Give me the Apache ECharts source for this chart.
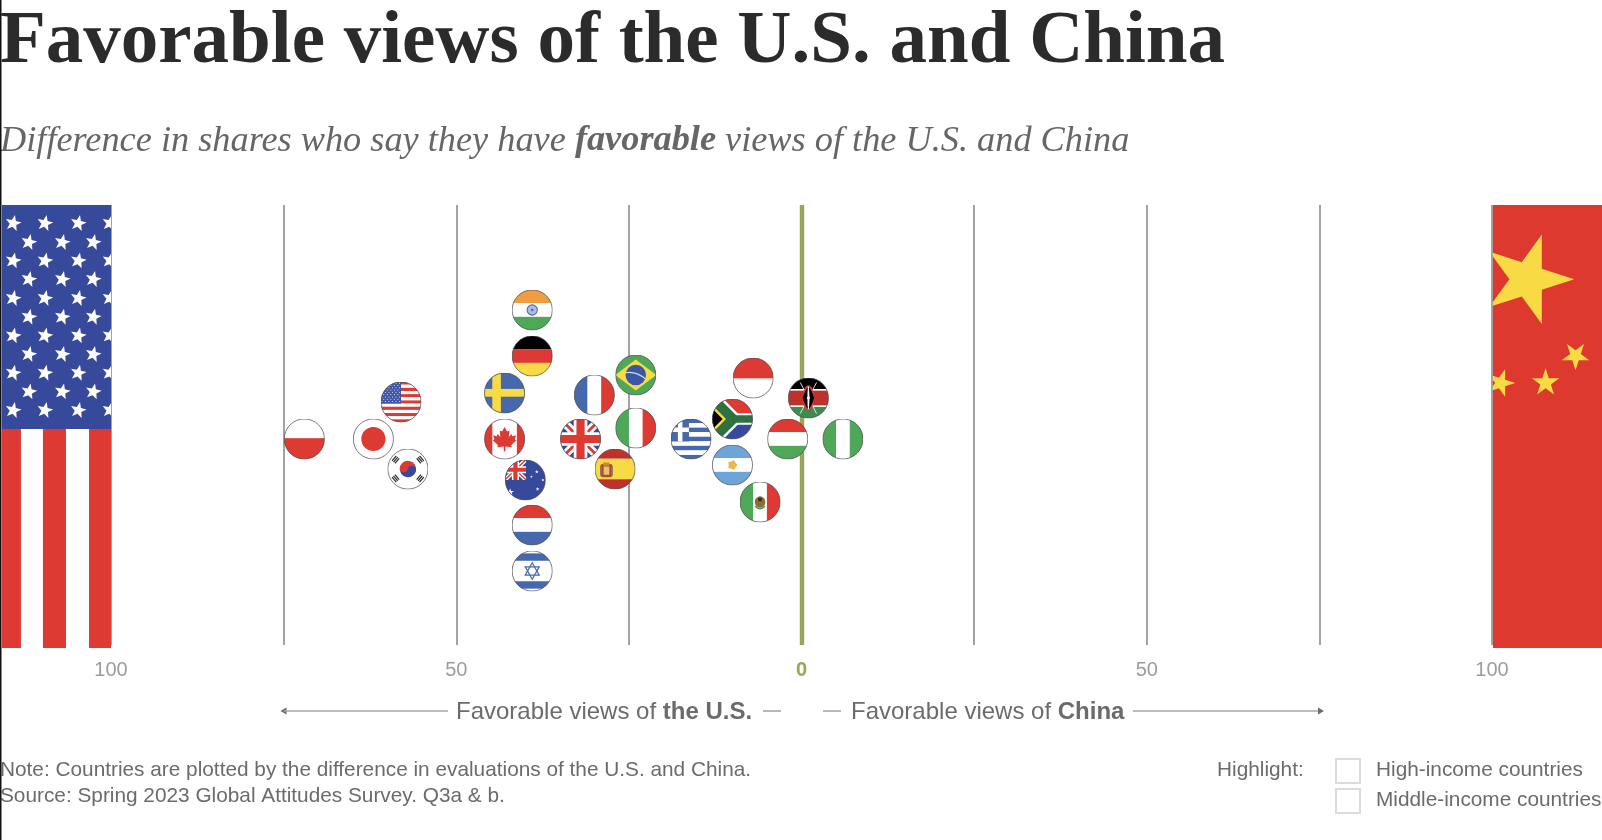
<!DOCTYPE html>
<html><head><meta charset="utf-8">
<style>html,body{margin:0;padding:0;background:#fff;overflow:hidden}#c{width:1602px;height:840px}</style>
<script src="https://cdn.jsdelivr.net/npm/echarts@6/dist/echarts.min.js"></script>
</head><body><div id="c"></div>
<script>
// ---------- data ----------
const titleText = 'Favorable views of the U.S. and China';
const noteText = 'Note: Countries are plotted by the difference in evaluations of the U.S. and China.';
const sourceText = 'Source: Spring 2023 Global Attitudes Survey. Q3a & b.';
const countries = ['Poland','Japan','USA','Korea','India','Germany','Sweden','Canada','Australia','Netherlands','Israel','France','UK','Spain','Italy','Brazil','Greece','Indonesia','SouthAfrica','Argentina','Mexico','Hungary','Kenya','Nigeria'];
// China favorability minus U.S. favorability (negative = U.S. side)
const netViews = [-72,-62,-58,-57,-39,-39,-43,-43,-40,-39,-39,-30,-32,-27,-24,-24,-16,-7,-10,-10,-6,-2,1,6];
// vertical offset in the beeswarm layout
const swarmOffset = [0,0,37,-30,129,83,46,0,-41,-86,-132,44,0,-30,11,64,0,61,20,-26,-63,0,41,0];
const axisLabels = [100,50,0,50,100];
const sideFlags = [[-115.8,-100,'us'],[100.1,116,'cn']];

// ---------- flag artwork ----------
const R='#dc3a32',B='#4668ad',D='#36499b',G='#4ea858',W='#ffffff',Y='#f8da45',O='#ef9d3f',K='#000000',L='#6ea5d9';
const rect=(x,y,w,h,c)=>`<rect x="${x}" y="${y}" width="${w}" height="${h}" fill="${c}"/>`;
const hs=(cs)=>cs.map((c,i)=>rect(0,100*i/cs.length,100,100/cs.length+.3,c)).join('');
const vs=(cs)=>cs.map((c,i)=>rect(100*i/cs.length,0,100/cs.length+.3,100,c)).join('');
function star(cx,cy,r,rot,c,inner){inner=inner||.382;let p=[];for(let i=0;i<10;i++){const a=(rot+i*36)*Math.PI/180,q=i%2?r*inner:r;p.push((cx+q*Math.cos(a)).toFixed(2)+','+(cy+q*Math.sin(a)).toFixed(2));}return `<polygon points="${p.join(' ')}" fill="${c}"/>`;}
const wrap=(s)=>`<svg xmlns="http://www.w3.org/2000/svg" width="164" height="164" viewBox="0 0 100 100"><defs><clipPath id="c"><circle cx="50" cy="50" r="49"/></clipPath></defs><g clip-path="url(#c)">${s}</g><circle cx="50" cy="50" r="49" fill="none" stroke="#4a4a4a" stroke-width="1.8"/></svg>`;
function ukJack(w,h){return `<svg x="0" y="0" width="${w}" height="${h}" viewBox="0 0 60 60" preserveAspectRatio="none"><rect width="60" height="60" fill="${D}"/><path d="M0,0L60,60M60,0L0,60" stroke="${W}" stroke-width="12"/><path d="M0,0L60,60M60,0L0,60" stroke="${R}" stroke-width="4"/><path d="M30,0V60M0,30H60" stroke="${W}" stroke-width="20"/><path d="M30,0V60M0,30H60" stroke="${R}" stroke-width="12"/></svg>`;}
function usSmall(){let s='';for(let i=0;i<13;i++)s+=rect(0,i*100/13,100,100/13+.2,i%2?W:R);s+=rect(0,0,50,100*7/13,'#3f55a8');for(let r=0;r<9;r++)for(let c=0;c<(r%2?5:6);c++)s+=`<circle cx="${(r%2?8:3.5)+c*8.6}" cy="${4+r*5.6}" r="1.3" fill="${W}"/>`;return s;}
function tri(x,y,a){let s=`<g transform="translate(${x},${y}) rotate(${a})">`;for(let i=0;i<3;i++)s+=rect(-8,-6+i*4.6,16,2.8,'#222');return s+'</g>';}
const leaf='M50 21 L56 32 L62 29 L60 45 L67 38 L69 43 L78 41 L75 51 L79 53 L66 65 L68 70 L52 68 L52 80 L48 80 L48 68 L32 70 L34 65 L21 53 L25 51 L22 41 L31 43 L33 38 L40 45 L38 29 L44 32 Z';
const flagArt={
 Poland:rect(0,0,100,48,W)+rect(0,48,100,52,R),
 Japan:rect(0,0,100,100,W)+`<circle cx="50" cy="50" r="29.5" fill="${R}"/>`,
 USA:usSmall(),
 Korea:rect(0,0,100,100,W)+`<g transform="rotate(12 50 50)"><path d="M30 50a20 20 0 0 1 40 0z" fill="${R}"/><path d="M30 50a20 20 0 0 0 40 0z" fill="${D}"/><circle cx="40" cy="50" r="10" fill="${R}"/><circle cx="60" cy="50" r="10" fill="${D}"/></g>`+tri(20,27,-50)+tri(80,27,50)+tri(20,73,50)+tri(80,73,-50),
 India:hs([O,W,G])+`<circle cx="50" cy="50" r="12.5" fill="#a9bde2" stroke="${B}" stroke-width="2.5"/><circle cx="50" cy="50" r="3" fill="${B}"/>`,
 Germany:hs([K,R,Y]),
 Sweden:rect(0,0,100,100,B)+rect(20,0,21,100,Y)+rect(0,40,100,19,Y),
 Canada:rect(0,0,100,100,W)+rect(0,0,20,100,R)+rect(80,0,20,100,R)+`<path d="${leaf}" fill="${R}"/>`,
 Australia:rect(0,0,100,100,D)+ukJack(52,50)+star(13,80,10,-90,W)+star(65,42,3.5,-90,W)+star(78,30,5,-90,W)+star(93,50,4,-90,W)+star(80,72,5,-90,W),
 Netherlands:hs([R,W,B]),
 Israel:rect(0,0,100,100,W)+rect(0,7,100,18,B)+rect(0,75,100,18,B)+`<g fill="none" stroke="${B}" stroke-width="3"><path d="M50 30L67 60H33Z"/><path d="M50 70L67 40H33Z"/></g>`,
 France:vs([B,W,R]),
 UK:ukJack(100,100),
 Spain:rect(0,0,100,25,'#bd322d')+rect(0,25,100,50,Y)+rect(0,75,100,25,'#bd322d')+`<rect x="14" y="38" width="30" height="32" rx="6" fill="#b04a2a"/><rect x="21" y="34" width="15" height="8" fill="#c3902e"/><rect x="22" y="44" width="14" height="20" fill="#e4c66a"/><rect x="14" y="44" width="4" height="22" fill="#777"/><rect x="40" y="44" width="4" height="22" fill="#777"/>`,
 Italy:vs([G,W,R]),
 Brazil:rect(0,0,100,100,G)+`<polygon points="50,12 100,50 50,88 0,50" fill="${Y}"/><circle cx="50" cy="50" r="25" fill="#3a56a6"/><path d="M26 44Q52 40 74 60" fill="none" stroke="#cfe0d8" stroke-width="3"/>`,
 Greece:(()=>{let s='';for(let i=0;i<9;i++)s+=rect(0,i*100/9,100,100/9+.2,i%2?W:B);s+=rect(0,0,45,56,B)+rect(18,0,11,56,W)+rect(0,22,45,11,W);return s;})(),
 Indonesia:rect(0,0,100,50,R)+rect(0,50,100,50,W)+rect(0,50,100,3,'#f0c0bc'),
 SouthAfrica:rect(0,0,100,50,R)+rect(0,50,100,50,D)+`<path d="M-5 -5L50 50L-5 105" fill="none" stroke="${W}" stroke-width="38"/><path d="M50 50H105" stroke="${W}" stroke-width="28"/><path d="M-5 -5L50 50L-5 105" fill="none" stroke="#2e7040" stroke-width="26"/><path d="M50 50H105" stroke="#2e7040" stroke-width="18"/><path d="M-5 14L30 50L-5 86" fill="${K}" stroke="${Y}" stroke-width="6"/>`,
 Argentina:hs([L,W,L])+star(50,50,12,0,'#e8ac3a',.75)+`<circle cx="50" cy="50" r="8" fill="#eeb94a"/>`,
 Mexico:vs([G,W,R])+`<ellipse cx="50" cy="50" rx="13" ry="14" fill="#8a6b3d"/><path d="M38 60Q50 72 62 60" fill="none" stroke="#4e9a58" stroke-width="4"/><circle cx="50" cy="44" r="5" fill="#3c2d1c"/>`,
 Hungary:hs([R,W,G]),
 Kenya:rect(0,0,100,30,K)+rect(0,30,100,40,'#bd322d')+rect(0,70,100,30,'#3e8b4c')+rect(0,28,100,4,W)+rect(0,68,100,4,W)+`<path d="M30 12L70 88M70 12L30 88" stroke="${W}" stroke-width="2"/><ellipse cx="50" cy="50" rx="14" ry="31" fill="${R}"/><path d="M36 50Q42 30 50 22Q42 50 50 78Q42 70 36 50ZM64 50Q58 30 50 22Q58 50 50 78Q58 70 64 50Z" fill="${K}"/><rect x="48.5" y="22" width="3" height="56" fill="${W}"/><circle cx="50" cy="50" r="3.5" fill="${W}"/>`,
 Nigeria:vs([G,W,G])
};
const uri=(s)=>'data:image/svg+xml;charset=utf-8,'+encodeURIComponent(s);
const flagSymbol=(n)=>'image://'+uri(wrap(flagArt[n]));

// full-size side flags, drawn in page-like units inside their own viewBox
function usFlagSvg(){
 let s=rect(2,205,109,443,W)+rect(2,205,19,443,R)+rect(43,205,23,443,R)+rect(89,205,22,443,R)+rect(2,205,109,224,D);
 const ys=[223.3,242.3,260.7,279.3,298.3,317,335.7,354.3,373,391.7,410.3];
 ys.forEach((y,i)=>{(i%2?[29,62.3,93.3]:[13.3,45,78.3,110]).forEach(x=>{s+=star(x,y,8.4,-78,W,.42);});});
 return `<svg xmlns="http://www.w3.org/2000/svg" width="218" height="886" viewBox="2 205 109 443" preserveAspectRatio="none">${s}</svg>`;
}
function cnFlagSvg(){
 const s=rect(1492,205,110,443,'#dd392f')+star(1526.7,279.3,47,0,Y)+star(1575,355.7,14.5,90,Y)+star(1545,382.7,14.5,-90,Y)+star(1500,383,14.5,0,Y);
 return `<svg xmlns="http://www.w3.org/2000/svg" width="220" height="886" viewBox="1492 205 110 443" preserveAspectRatio="none">${s}</svg>`;
}
const sideArt={us:uri(usFlagSvg()),cn:uri(cnFlagSvg())};

// ---------- chart ----------
const SANS='"Liberation Sans",sans-serif', SERIF='"Liberation Serif",serif';
const GREY='#6b6b6b', OLIVE='#9aa557', TICK='#9c9c9c';
const chart=echarts.init(document.getElementById('c'),null,{renderer:'canvas'});
const arrow=(x,y,dir)=>({type:'polygon',shape:{points:[[x,y],[x-dir*6,y-3.5],[x-dir*6,y+3.5]]},style:{fill:'#6b6b6b'}});
const seg=(x1,x2,y)=>({type:'line',shape:{x1,y1:y,x2,y2:y},style:{stroke:'#a6a6a6',lineWidth:1.6}});
const txt=(x,y,text,extra)=>({type:'text',x,y,style:Object.assign({text,fill:GREY,font:'20.8px '+SANS,textVerticalAlign:'middle'},extra||{})});
const richB={b:{fontFamily:SANS,fontSize:24,fontWeight:'bold',fill:GREY}};
chart.setOption({
 animation:false,
 backgroundColor:'#fff',
 title:[
  {text:titleText,left:0,top:5,padding:0,textStyle:{fontFamily:SERIF,fontSize:75,fontWeight:'bold',color:'#2b2b2b'}},
  {text:'{a|Difference in shares who say they have }{b|favorable}{a| views of the U.S. and China}',left:0,top:123,padding:0,textStyle:{rich:{
    a:{fontFamily:SERIF,fontSize:36.3,fontStyle:'italic',fontWeight:'normal',color:'#666'},
    b:{fontFamily:SERIF,fontSize:36.3,fontStyle:'italic',fontWeight:'bold',color:'#666'}}}}
 ],
 grid:{left:111,width:1381,top:205,height:440},
 xAxis:{type:'value',min:-100,max:100,interval:25,
  axisLine:{show:false},axisTick:{show:false},
  splitLine:{show:true,lineStyle:{color:'#a3a3a3',width:2}},
  axisLabel:{margin:15,fontFamily:SANS,fontSize:20,color:TICK,
   formatter:(v)=>{const i=[-100,-50,0,50,100].indexOf(v);return i<0?'':(v===0?'{z|'+axisLabels[i]+'}':String(axisLabels[i]));},
   rich:{z:{color:OLIVE,fontWeight:'bold',fontFamily:SANS,fontSize:20}}}},
 yAxis:{type:'value',min:-206,max:234,show:true,
  axisLine:{show:true,onZero:true,lineStyle:{color:OLIVE,width:4.4,cap:'butt'}},axisTick:{show:false},axisLabel:{show:false},splitLine:{show:false}},
 series:[
  {type:'custom',silent:true,z:1,coordinateSystem:'cartesian2d',clip:false,
   data:sideFlags,encode:{x:[0,1]},
   renderItem:(p,api)=>{const a=api.coord([api.value(0),234]),b=api.coord([api.value(1),-209]);const k=sideFlags[p.dataIndex][2];
    return {type:'image',style:{image:sideArt[k],x:a[0],y:a[1],width:b[0]-a[0],height:b[1]-a[1]}};}},
  {type:'scatter',z:3,symbolSize:41,silent:true,itemStyle:{opacity:1},
   data:countries.map((n,i)=>({name:n,value:[netViews[i],swarmOffset[i]],symbol:flagSymbol(n)}))}
 ],
 graphic:[
  {type:'rect',shape:{x:0,y:0,width:1.5,height:840},style:{fill:'#111'},z:100},
  arrow(280.5,711,-1),seg(284,448,711),seg(763,781,711),
  txt(456,712,'Favorable views of {b|the U.S.}',{rich:richB,font:'24px '+SANS}),
  seg(823,841,711),
  txt(851,712,'Favorable views of {b|China}',{rich:richB,font:'24px '+SANS}),
  seg(1133,1319,711),arrow(1324,711,1),
  txt(0,770,noteText),txt(0,796,sourceText),
  txt(1217,770,'Highlight:'),
  {type:'rect',shape:{x:1336,y:759,width:24,height:24},style:{fill:'#fff',stroke:'#dcdcdc',lineWidth:2}},
  {type:'rect',shape:{x:1336,y:789,width:24,height:24},style:{fill:'#fff',stroke:'#dcdcdc',lineWidth:2}},
  txt(1376,770,'High-income countries'),txt(1376,800,'Middle-income countries')
 ]
});
</script></body></html>
